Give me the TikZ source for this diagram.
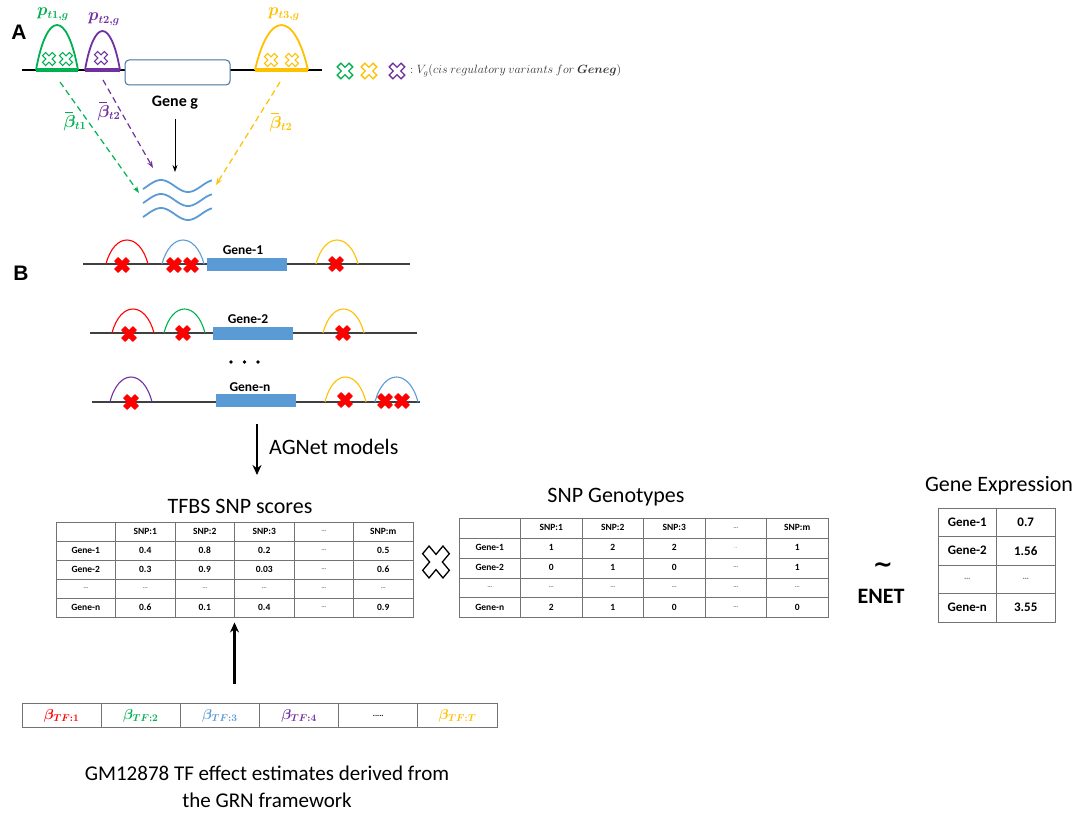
\documentclass[tikz,border=0pt]{standalone}
\usepackage{fontspec}
\setmainfont{Carlito}
\setsansfont{Carlito}
\newfontfamily\arialfont{Liberation Sans}
\newfontfamily\dejavufont{DejaVu Sans}
\usepackage{amsmath}
\usetikzlibrary{arrows.meta}
\definecolor{cgreen}{HTML}{00B050}
\definecolor{cpurple}{HTML}{7030A0}
\definecolor{cyellow}{HTML}{FFC000}
\definecolor{cblue}{HTML}{5B9BD5}
\definecolor{cred}{HTML}{FF0000}
\definecolor{cboxline}{HTML}{41719C}
\definecolor{ctext}{HTML}{333333}
\newcommand\tdots{{\fontsize{7}{7}\selectfont\textcolor{gray}{…}}}
% #1 opts, #2 colour, #3 x1, #4 x2, #5 ybase, #6 ytop, #7 control factor
\newcommand\bump[7][]{%
  \pgfmathsetmacro\bmpw{#4-#3}%
  \pgfmathsetmacro\bmpa{#3+#7*\bmpw}%
  \pgfmathsetmacro\bmpb{#4-#7*\bmpw}%
  \pgfmathsetmacro\bmpt{#5-1.333*(#5-#6)}%
  \draw[#2,#1] (#3,#5) .. controls (\bmpa,\bmpt) and (\bmpb,\bmpt) .. (#4,#5);}
\tikzset{
  xshape/.pic={\path[pic actions, rotate=45] (2.2,7)--(2.2,2.2)--(7,2.2)--(7,-2.2)--(2.2,-2.2)--(2.2,-7)--(-2.2,-7)--(-2.2,-2.2)--(-7,-2.2)--(-7,2.2)--(-2.2,2.2)--(-2.2,7)--cycle;},
  redx/.style={fill=cred, draw=cred, line width=0.6, line join=round, scale=1.15},
  chrom/.style={draw=black!75, line width=1.2},
  genebox/.style={fill=cblue, draw=none, minimum width=80, minimum height=13, inner sep=0},
  genelbl/.style={font=\fontsize{13.5}{14}\selectfont\bfseries, inner sep=0},
  tline/.style={draw=black!55, line width=0.9},
  tbox/.style={draw=black!55, line width=0.9, inner sep=0},
  cellA/.style={font=\fontsize{9.5}{10}\selectfont\bfseries, inner sep=0},
  cellC/.style={font=\fontsize{13}{14}\selectfont\bfseries, inner sep=0},
  title/.style={font=\fontsize{22}{24}\selectfont, inner sep=0},
  dasharr/.style={dashed, dash pattern=on 6pt off 4pt, line width=1.2, -{Stealth[length=7pt,width=5pt]}},
  bigarr/.style={line width=2.2, -{Stealth[length=10pt,width=9pt]}},
  betabar/.style={line width=1.3},
}
\begin{document}
\begin{tikzpicture}[x=1pt,y=-1pt]
\useasboundingbox (0,0) rectangle (1082,816);
% ---------------- Panel A ----------------
\node[font=\arialfont\bfseries\fontsize{21}{21}\selectfont, inner sep=0] (labA) at (19,32) {A};
\draw[black, line width=2] (22,70) -- (322,70);
\node[draw=cboxline, fill=white, rounded corners=4, line width=1, minimum width=105, minimum height=25, inner sep=0] (geneg) at (177.5,72.5) {};
% green site
\bump[line width=1.8]{cgreen}{36}{78}{70}{25}{0.26}
\draw[cgreen, line width=4] (36,70) -- (78,70);
\pic[draw=cgreen, fill=white, line width=1.1] at (49,59) {xshape};
\pic[draw=cgreen, fill=white, line width=1.1] at (66,59) {xshape};
% purple site
\bump[line width=1.8]{cpurple}{85}{120}{70}{31}{0.26}
\draw[cpurple, line width=4] (85,70) -- (120,70);
\pic[draw=cpurple, fill=white, line width=1.1] at (101,58) {xshape};
% yellow site
\bump[line width=1.8]{cyellow}{255}{308}{70}{25}{0.26}
\draw[cyellow, line width=4] (255,70) -- (308,70);
\pic[draw=cyellow, fill=white, line width=1.1] at (271,60) {xshape};
\pic[draw=cyellow, fill=white, line width=1.1] at (292,60) {xshape};
% labels
\node[text=cgreen, inner sep=0, font=\fontsize{16}{18}\selectfont] (pt1) at (53,14) {$\boldsymbol{p_{t1,g}}$};
\node[text=cpurple, inner sep=0, font=\fontsize{16}{18}\selectfont] (pt2) at (104,19) {$\boldsymbol{p_{t2,g}}$};
\node[text=cyellow, inner sep=0, font=\fontsize{16}{18}\selectfont] (pt3) at (284,14) {$\boldsymbol{p_{t3,g}}$};
\node[font=\fontsize{16}{16}\selectfont\bfseries, inner sep=0] (genegl) at (175,103) {Gene g};
% transcript
\foreach \yy in {186,200,214}
  \draw[cblue, line width=1.8] plot[domain=0:1, samples=40, smooth] ({143+69*\x}, {\yy - 6*sin(-30+460*\x)});
\coordinate (tr) at (175,172);
\draw[black, line width=0.8, -{Stealth[length=7pt,width=5pt]}] (genegl.south) ++(0,9) -- (tr);
% dashed effect arrows
\coordinate (gsrc) at (60,82); \coordinate (gdst) at (139,193);
\coordinate (psrc) at (103,80); \coordinate (pdst) at (153,168);
\coordinate (ysrc) at (280,82); \coordinate (ydst) at (216,185);
\draw[dasharr, cgreen] (gsrc) -- (gdst);
\draw[dasharr, cpurple] (psrc) -- (pdst);
\draw[dasharr, cyellow] (ysrc) -- (ydst);
\node[text=cgreen, inner sep=0, font=\fontsize{16}{18}\selectfont] (b1) at (75,123) {$\boldsymbol{\beta_{t1}}$};
\node[text=cpurple, inner sep=0, font=\fontsize{16}{18}\selectfont] (b2) at (109,113) {$\boldsymbol{\beta_{t2}}$};
\node[text=cyellow, inner sep=0, font=\fontsize{16}{18}\selectfont] (b3) at (281,124) {$\boldsymbol{\beta_{t2}}$};
\draw[betabar, cgreen] ([xshift=1.5pt,yshift=2.5pt]b1.north west) -- ++(8.5,0);
\draw[betabar, cpurple] ([xshift=1.5pt,yshift=2.5pt]b2.north west) -- ++(8.5,0);
\draw[betabar, cyellow] ([xshift=1.5pt,yshift=2.5pt]b3.north west) -- ++(8.5,0);
% legend
\pic[draw=cgreen, fill=white, line width=1.3, scale=1.2] at (345,71) {xshape};
\pic[draw=cyellow, fill=white, line width=1.3, scale=1.2] at (369,71) {xshape};
\pic[draw=cpurple, fill=white, line width=1.3, scale=1.2] at (397,71) {xshape};
\node[anchor=west, inner sep=0, text=ctext, font=\fontsize{12}{14}\selectfont] (legend) at (410,71) {$:V_{g}(cis\ regulatory\ variants\ for\ \boldsymbol{Geneg})$};
% ---------------- Panel B ----------------
\node[font=\arialfont\bfseries\fontsize{21}{21}\selectfont, inner sep=0] (labB) at (21,273) {B};
% Gene-1
\draw[chrom] (83,264) -- (410,264);
\bump[line width=1.1]{cred}{106}{148}{264}{240}{0.2}
\bump[line width=1.1]{cblue}{162}{204}{264}{240}{0.2}
\bump[line width=1.1]{cyellow}{316}{358}{264}{240}{0.2}
\node[genebox] (g1) at (247,264.5) {};
\node[genelbl] (g1l) at (243,250) {Gene-1};
\pic[redx] at (122,265) {xshape};
\pic[redx] at (174,265) {xshape};
\pic[redx] at (191,265) {xshape};
\pic[redx] at (336,264) {xshape};
% Gene-2
\draw[chrom] (90,333) -- (417,333);
\bump[line width=1.1]{cred}{112}{154}{333}{309}{0.2}
\bump[line width=1.1]{cgreen}{164}{205}{333}{309}{0.2}
\bump[line width=1.1]{cyellow}{323}{364}{333}{309}{0.2}
\node[genebox] (g2) at (253,333.5) {};
\node[genelbl] (g2l) at (248,319) {Gene-2};
\pic[redx] at (129,334) {xshape};
\pic[redx] at (183,333) {xshape};
\pic[redx] at (343,333) {xshape};
% dots
\foreach \xx in {231,244.5,258} \fill (\xx,362) circle (1.9);
% Gene-n
\draw[chrom] (92,402) -- (420,402);
\bump[line width=1.1]{cpurple}{110}{152}{402}{377}{0.2}
\bump[line width=1.1]{cyellow}{325}{366}{402}{377}{0.2}
\bump[line width=1.1]{cblue}{375}{418}{402}{377}{0.2}
\node[genebox] (gn) at (255.5,400) {};
\node[genelbl] (gnl) at (250,387) {Gene-n};
\pic[redx] at (131,402) {xshape};
\pic[redx] at (345,400) {xshape};
\pic[redx] at (385,401) {xshape};
\pic[redx] at (402,401) {xshape};
% AGNet arrow
\coordinate (agtop) at (257,424);
\coordinate (agbot) at (257,475);
\draw[bigarr] (agtop) -- (agbot);
\node[anchor=west, font=\fontsize{22}{24}\selectfont, inner sep=0] (agnet) at (269,447) {AGNet models};
% ---------------- Table 1: TFBS SNP scores ----------------
\node[title] (t1title) at (240,506) {TFBS SNP scores};
\node[tbox, minimum width=357, minimum height=95] (scores) at (234.5,569.5) {};
\foreach \xx in {115.5,175,234.5,294,353.5} \draw[tline] (\xx,522) -- (\xx,617);
\foreach \yy in {541,560,579,598} \draw[tline] (56,\yy) -- (413,\yy);
\foreach \row [count=\i] in {{ ,SNP:1,SNP:2,SNP:3,\tdots,SNP:m},{Gene-1,0.4,0.8,0.2,\tdots,0.5},{Gene-2,0.3,0.9,0.03,\tdots,0.6},{\tdots,\tdots,\tdots,\tdots,\tdots,\tdots},{Gene-n,0.6,0.1,0.4,\tdots,0.9}}
  \foreach \cell [count=\j] in \row
    \node[cellA] (sc-\i-\j) at ({56+59.5*(\j-0.5)},{522+19*(\i-0.5)}) {\cell};
% big multiplication cross
\pic[draw=black, fill=white, line width=1.3, xscale=2.05, yscale=2.45] (mult) at (436,562) {xshape};
% ---------------- Table 2: SNP Genotypes ----------------
\node[title] (t2title) at (616,497) {SNP Genotypes};
\node[tbox, minimum width=369, minimum height=99] (geno) at (643.5,567.5) {};
\foreach \xx in {520.5,582,643.5,705,766.5} \draw[tline] (\xx,518) -- (\xx,617);
\foreach \yy in {538,558,578,597} \draw[tline] (459,\yy) -- (828,\yy);
\foreach \row [count=\i] in {{ ,SNP:1,SNP:2,SNP:3,\tdots,SNP:m},{Gene-1,1,2,2,{\tiny\textcolor{gray}{..}},1},{Gene-2,0,1,0,\tdots,1},{\tdots,\tdots,\tdots,\tdots,\tdots,\tdots},{Gene-n,2,1,0,\tdots,0}}
  \foreach \cell [count=\j] in \row
    \node[cellA] (gt-\i-\j) at ({459+61.5*(\j-0.5)},{518+19.8*(\i-0.5)}) {\cell};
% ENET
\node[inner sep=0, font=\dejavufont\bfseries\fontsize{24}{24}\selectfont] (tilde) at (883,568) {\textasciitilde};
\node[font=\fontsize{22}{24}\selectfont\bfseries, inner sep=0] (enet) at (881,596) {ENET};
% ---------------- Table 3: Gene Expression ----------------
\node[title] (t3title) at (999,486) {Gene Expression};
\node[tbox, minimum width=117, minimum height=114] (expr) at (996.5,565) {};
\draw[tline] (996,508) -- (996,622);
\foreach \yy in {536.5,565,593.5} \draw[tline] (938,\yy) -- (1055,\yy);
\foreach \row [count=\i] in {{Gene-1,0.7},{Gene-2,1.56},{{\fontsize{9}{9}\selectfont\textcolor{gray}{…}},{\fontsize{9}{9}\selectfont\textcolor{gray}{…}}},{Gene-n,3.55}}
  \foreach \cell [count=\j] in \row
    \node[cellC] (ex-\i-\j) at ({938+58.5*(\j-0.5)},{508+28.5*(\i-0.5)}) {\cell};
% ---------------- TF effect estimates ----------------
\node[tbox, minimum width=475, minimum height=24] (betas) at (259.5,715) {};
\foreach \k in {1,...,5} \draw[tline] ({22+79.17*\k},703) -- ({22+79.17*\k},727);
\foreach \lab/\col [count=\k] in {{TF{:}1}/cred,{TF{:}2}/cgreen,{TF{:}3}/cblue,{TF{:}4}/cpurple,{}/black,{TF{:}T}/cyellow}
  \node[text=\col, inner sep=0, font=\fontsize{14}{15}\selectfont] (bt-\k) at ({22+79.17*(\k-0.5)},716) {\ifnum\k=5 \textbf{\fontsize{8}{8}\selectfont.....}\else$\boldsymbol{\beta_{\lab}}$\fi};
\draw[bigarr, shorten <=19pt, shorten >=5pt] (betas.north -| scores.south) -- (scores.south);
\node[align=center, font=\fontsize{21}{27}\selectfont, inner sep=0] (caption) at (267,787) {GM12878 TF effect estimates derived from\\the GRN framework};
\end{tikzpicture}
\end{document}
